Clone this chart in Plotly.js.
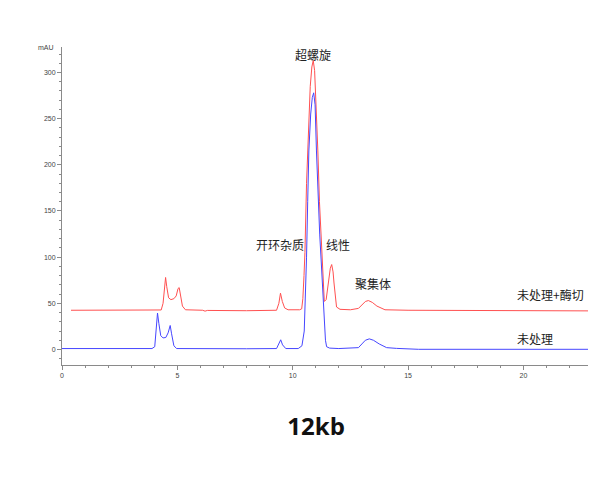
<!DOCTYPE html>
<html>
<head>
<meta charset="utf-8">
<script src="https://cdn.plot.ly/plotly-3.0.1.min.js"></script>
<style>html,body{margin:0;padding:0;background:#fff;}</style>
</head>
<body>
<div id="chart" style="width:615px;height:487px;"></div>
<script>
// Retention time (min) and absorbance (mAU)
var digestedX = [0.39, 2, 3, 4.3, 4.38, 4.44, 4.49, 4.54, 4.62, 4.72, 4.85, 4.95, 5.03, 5.08, 5.14, 5.22, 5.35, 6.1, 6.2, 6.3, 8, 9.3, 9.4, 9.47, 9.55, 9.65, 9.8, 10.3, 10.39, 10.44, 10.49, 10.53, 10.6, 10.68, 10.76, 10.83, 10.89, 10.95, 11.02, 11.09, 11.16, 11.23, 11.28, 11.33, 11.37, 11.45, 11.55, 11.63, 11.69, 11.75, 11.79, 11.85, 11.9, 12.05, 12.5, 12.85, 13.0, 13.15, 13.28, 13.45, 13.65, 14.0, 15, 17.1, 17.2, 22.8];
var digestedY = [42.5, 42.5, 43, 42.8, 50, 70, 78, 68, 56, 54, 55, 58, 66, 67, 58, 47, 43, 42.5, 41.5, 42.3, 42, 42.5, 50, 61, 52, 45, 43, 43, 44, 55, 80, 105, 180, 240, 285, 306, 313, 302, 265, 215, 160, 118, 98, 70, 52, 54, 72, 88, 92, 84, 72, 55, 46, 43.5, 43, 44.5, 48, 52, 53, 51, 47, 43, 42.5, 42.5, 41.8, 41.8];

var untreatedX = [0, 2, 3.9, 4.02, 4.08, 4.14, 4.2, 4.28, 4.38, 4.5, 4.6, 4.69, 4.75, 4.85, 4.97, 6, 8, 9.3, 9.4, 9.48, 9.56, 9.7, 10.24, 10.4, 10.5, 10.56, 10.6, 10.65, 10.7, 10.78, 10.85, 10.91, 10.97, 11.03, 11.1, 11.17, 11.23, 11.3, 11.36, 11.42, 11.47, 11.6, 12.0, 12.85, 13.0, 13.15, 13.32, 13.5, 13.75, 14.07, 14.5, 15.4, 15.45, 22.8];
var untreatedY = [1, 1.2, 1, 3, 25, 39.5, 28, 15, 12.5, 13, 18, 26, 17, 4, 1, 0.8, 0.8, 1, 6, 10.5, 5, 1, 1, 4, 20, 60, 100, 160, 215, 255, 273, 278, 265, 215, 165, 125, 98, 60, 30, 10, 3, 1.5, 1, 2, 6, 10, 11.5, 10, 6, 2, 1.2, 1, 0.2, 0.2];

var xTicks = [0, 5, 10, 15, 20];
var yTicks = [0, 50, 100, 150, 200, 250, 300];

var peakLabels = ['超螺旋', '开环杂质', '线性', '聚集体'];
var seriesLabels = ['未处理+酶切', '未处理'];

var traces = [
  {x: digestedX, y: digestedY, type: 'scatter', mode: 'lines', name: seriesLabels[0],
   line: {color: 'rgb(255,80,80)', width: 1}},
  {x: untreatedX, y: untreatedY, type: 'scatter', mode: 'lines', name: seriesLabels[1],
   line: {color: 'rgb(70,70,255)', width: 1}}
];

var cjk = {family: '"Noto Sans CJK SC", "Noto Sans", sans-serif', size: 12, color: '#222'};
function ann(text, x, y, anchor) {
  return {text: text, x: x, y: y, xref: 'x', yref: 'y', showarrow: false,
          xanchor: anchor, yanchor: 'middle', font: cjk};
}

var axisCommon = {
  showgrid: false, zeroline: false, showline: true, linecolor: '#8a8a8a', linewidth: 1,
  ticks: 'outside', ticklen: 4, tickcolor: '#8a8a8a', tickwidth: 1,
  tickfont: {family: '"Liberation Sans", Arial, sans-serif', size: 7, color: '#444'}
};

var layout = {
  width: 615, height: 487,
  margin: {l: 62, r: 27, t: 47, b: 122},
  paper_bgcolor: '#ffffff', plot_bgcolor: '#ffffff',
  showlegend: false,
  title: {text: '<b>12kb</b>', xref: 'container', yref: 'container', x: 0.514, y: 0.124,
          xanchor: 'center', yanchor: 'middle',
          font: {family: '"Open Sans", "Noto Sans", sans-serif', size: 24, color: '#111'}},
  xaxis: Object.assign({}, axisCommon, {range: [0, 22.8], tickvals: xTicks,
          minor: {dtick: 1, tick0: 0, ticks: 'outside', ticklen: 2, tickcolor: '#8a8a8a'}}),
  yaxis: Object.assign({}, axisCommon, {range: [-16.8, 327.6], tickvals: yTicks,
          minor: {dtick: 10, tick0: 0, ticks: 'outside', ticklen: 2, tickcolor: '#8a8a8a'}}),
  annotations: [
    ann(peakLabels[0], 10.88, 319, 'center'),
    ann(peakLabels[1], 9.44, 114, 'center'),
    ann(peakLabels[2], 11.96, 114, 'center'),
    ann(peakLabels[3], 13.49, 71.7, 'center'),
    ann(seriesLabels[0], 19.64, 60, 'left'),
    ann(seriesLabels[1], 19.64, 12, 'left'),
    {text: 'mAU', xref: 'paper', yref: 'paper', x: -0.012, y: 1.0, xanchor: 'right', yanchor: 'middle',
     showarrow: false, font: {family: '"Liberation Sans", Arial, sans-serif', size: 7, color: '#444'}}
  ]
};

Plotly.newPlot('chart', traces, layout, {displayModeBar: false, staticPlot: true});
</script>
</body>
</html>
